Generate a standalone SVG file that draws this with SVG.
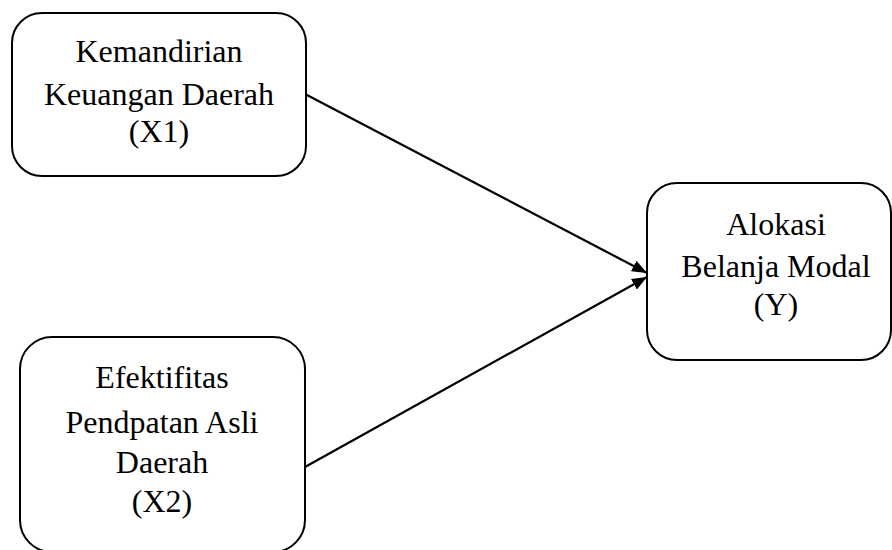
<svg xmlns="http://www.w3.org/2000/svg" width="892" height="550" viewBox="0 0 892 550">
<defs>
<style>
.box{fill:#fff;stroke:#000;stroke-width:2}
.lbl{font-family:"Liberation Serif","Times New Roman",serif;font-size:32px;fill:#000;text-anchor:middle}
.conn{stroke:#000;stroke-width:2.2;fill:none}
</style>
<marker id="arr" markerUnits="userSpaceOnUse" markerWidth="16" markerHeight="12" refX="15" refY="6" orient="auto">
<path d="M0,0 L15,6 L0,12 Z" fill="#000"/>
</marker>
</defs>
<rect width="892" height="550" fill="#fff"/>
<g id="connectors">
<path class="conn" d="M305,94 L647,273" marker-end="url(#arr)"/>
<path class="conn" d="M305,467 L647,277" marker-end="url(#arr)"/>
</g>
<g id="x1">
<rect class="box" x="12" y="13" width="294" height="163" rx="30" ry="30"/>
<text class="lbl" x="159" y="62">Kemandirian</text>
<text class="lbl" x="159" y="105">Keuangan Daerah</text>
<text class="lbl" x="159" y="142">(X1)</text>
</g>
<g id="x2">
<rect class="box" x="20" y="337" width="285" height="215" rx="32" ry="32"/>
<text class="lbl" x="162" y="388">Efektifitas</text>
<text class="lbl" x="162" y="433">Pendpatan Asli</text>
<text class="lbl" x="162" y="473">Daerah</text>
<text class="lbl" x="162" y="512">(X2)</text>
</g>
<g id="y">
<rect class="box" x="647" y="183" width="244" height="177" rx="30" ry="30"/>
<text class="lbl" x="776" y="235">Alokasi</text>
<text class="lbl" x="776" y="277">Belanja Modal</text>
<text class="lbl" x="776" y="315">(Y)</text>
</g>
</svg>
